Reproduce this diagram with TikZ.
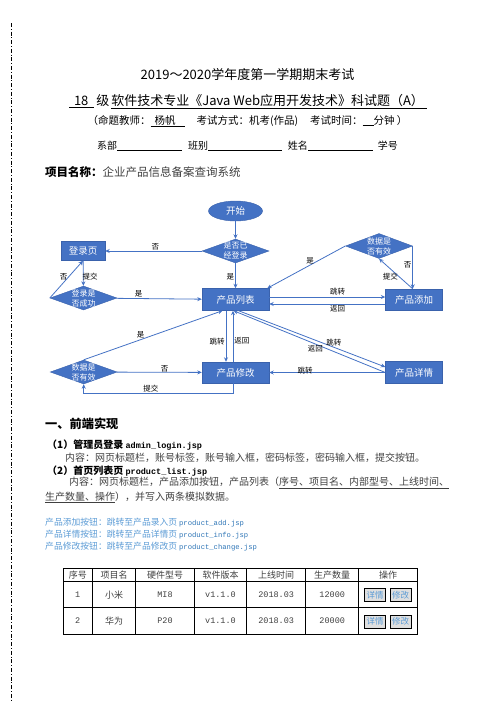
\documentclass[tikz,border=0pt]{standalone}
\usepackage{fontspec}
\setmainfont{Noto Sans CJK SC}
\setmonofont{Liberation Mono}
\usepackage{xcolor}
\usetikzlibrary{arrows.meta, shapes.geometric}
\definecolor{flowblue}{HTML}{4472C4}
\definecolor{flowedge}{HTML}{3A62AC}
\definecolor{linkblue}{HTML}{5B9BD5}
\definecolor{codeblue}{HTML}{2E75B6}
\definecolor{bodygray}{HTML}{404040}
\newcommand{\fsz}[1]{\fontsize{#1}{#1}\selectfont}
\tikzset{
  pagetext/.style={inner sep=0pt, font=\fsz{10}},
  flowbox/.style={draw=flowedge, fill=flowblue, text=white, inner sep=1pt,
                  font=\fsz{9.5}, minimum height=21pt},
  terminal/.style={flowbox, ellipse, minimum width=54pt, minimum height=20pt},
  process/.style={flowbox, rectangle, minimum width=67pt},
  smallproc/.style={process, minimum width=57pt},
  decision/.style={flowbox, diamond, minimum width=67pt, minimum height=24pt, inner sep=0pt},
  dtext/.style={text=white, align=center, font=\fontsize{8}{10}\selectfont, inner sep=0pt},
  flowarrow/.style={-{Stealth[length=4.5pt, width=4pt]}, draw=flowblue, line width=0.8pt},
  edgelabel/.style={font=\fsz{7.5}, inner sep=1pt},
  tabline/.style={line width=0.8pt},
  cell/.style={font=\fsz{9}, text=bodygray, inner sep=0pt},
  cellmono/.style={cell, font=\ttfamily\fsz{8.5}},
  tabbtn/.style={draw, line width=0.6pt, fill=gray!25, text=linkblue, font=\fsz{8.5},
                 inner sep=0.5pt, minimum width=21pt, minimum height=13pt}
}

\begin{document}
\begin{tikzpicture}[x=1pt, y=-1pt]
\useasboundingbox (0,0) rectangle (496,702);

% Binding line
\draw[dash pattern=on 4pt off 1.8pt on 1pt off 1.8pt, line width=0.7pt] (11,23) -- (11,702);

% Header
\node[pagetext, font=\fsz{13}] (title) at (247.5,75) {2019～2020学年度第一学期期末考试};
\node[pagetext, font=\fsz{13}] (subject) at (248,102)
  {\underline{\hspace{5pt}18\hspace{6pt}}\hspace{2pt}级\hspace{2pt}\underline{软件技术专业《Java Web应用开发技术》科试题（A）\hspace{3pt}}};
\node[pagetext, font=\fsz{10.5}] (teacher) at (247.5,121)
  {（命题教师：\underline{\hspace{4pt}杨帆\hspace{9pt}}\hspace{12pt}考试方式：机考(作品)\hspace{12pt}考试时间：\underline{\hspace{11pt}}分钟 ）};
\node[pagetext] (student) at (247.5,146)
  {系部\underline{\hspace{65pt}}\hspace{6pt}班别\underline{\hspace{74pt}}\hspace{6pt}姓名\underline{\hspace{65pt}}\hspace{5pt}学号};
\node[pagetext, anchor=west, font=\fsz{11.5}] (project) at (45,172)
  {\textbf{项目名称：}\textcolor{bodygray}{企业产品信息备案查询系统}};

% Nodes
\node[terminal] (start) at (235.5,211) {开始};
\node[decision, label={[dtext]center:是否已\\经登录}] (logged) at (235.5,251) {};
\node[process, minimum width=44pt, minimum height=19pt] (loginpage) at (83,251) {登录页};
\node[decision, label={[dtext]center:登录是\\否成功}] (loginok) at (83.5,298) {};
\node[process, minimum height=22pt] (list) at (235.5,299.5) {产品列表};
\node[smallproc] (add) at (414,299.5) {产品添加};
\node[decision, minimum height=25pt, label={[dtext]center:数据是\\否有效}] (addvalid) at (379,246) {};
\node[process] (modify) at (235.5,372.5) {产品修改};
\node[decision, label={[dtext]center:数据是\\否有效}] (modvalid) at (83.7,372) {};
\node[smallproc, minimum height=22pt] (detail) at (414,372.5) {产品详情};

% Arrows
\draw[flowarrow] (start) -- (logged);
\draw[flowarrow] (logged) -- node[edgelabel, above, pos=0.48] {否} (loginpage);
\draw[flowarrow] (logged) -- node[edgelabel, left, pos=0.56] {是} (list);
\draw[flowarrow] (loginpage) -- node[edgelabel, right=-2pt, pos=0.62] {提交} (loginok);
\draw[flowarrow] (loginok.west) -- node[edgelabel, left, pos=0.57] {否} (loginpage.south);
\draw[flowarrow] (loginok) -- node[edgelabel, above, pos=0.26] {是} (list);
\draw[flowarrow] ([yshift=2.5pt]list.east) -- node[edgelabel, above, pos=0.59] {跳转} ([yshift=2.5pt]add.west);
\draw[flowarrow] ([yshift=-4.5pt]add.west) -- node[edgelabel, below, pos=0.41] {返回} ([yshift=-4.5pt]list.east);
\draw[flowarrow] (addvalid.east) -- node[edgelabel, left, pos=0.44] {否} (addvalid.east |- add.north);
\draw[flowarrow] (addvalid.east |- add.north) -- node[edgelabel, left, pos=0.4] {提交} (addvalid.south);
\draw[flowarrow] (addvalid.west) -- node[edgelabel, above, pos=0.45] {是} ([xshift=-2pt]list.north east);
\draw[flowarrow] ([xshift=-9.5pt]list.south) -- node[edgelabel, left, pos=0.6] {跳转} ([xshift=-9.5pt]modify.north);
\draw[flowarrow] ([xshift=-2.5pt]modify.north) -- node[edgelabel, right, pos=0.41] {返回} ([xshift=-2.5pt]list.south);
\draw[flowarrow] ([xshift=3pt]list.south) -- node[edgelabel, above, pos=0.65] {跳转} ([yshift=5.5pt]detail.west);
\draw[flowarrow] (detail.west) -- node[edgelabel, below, pos=0.46] {返回} ([xshift=-2pt]list.south);
\draw[flowarrow] (detail) -- node[edgelabel, pos=0.69, yshift=1.5pt] {跳转} (modify);
\draw[flowarrow] ([xshift=-2.5pt]modify.south) -- ++(0,10) -| node[edgelabel, above, pos=0.275] {提交} (modvalid.south);
\draw[flowarrow] (modvalid) -- node[edgelabel, above=-1pt, pos=0.56] {否} (modify);
\draw[flowarrow] (modvalid.north) -- node[edgelabel, above, pos=0.41] {是} ([xshift=-13pt]list.south);

% Requirements text
\node[pagetext, anchor=west, font=\bfseries\fsz{12.2}] (front) at (45,423.3) {一、前端实现};
\node[pagetext, anchor=west, font=\bfseries\fsz{10}] (login) at (47,445)
  {（1）管理员登录 {\ttfamily\fsz{8.5}admin\_login.jsp}};
\node[pagetext, anchor=west, text=bodygray] (logindesc) at (65,457.7)
  {内容：网页标题栏，账号标签，账号输入框，密码标签，密码输入框，提交按钮。};
\node[pagetext, anchor=west, font=\bfseries\fsz{10}] (listpage) at (47,471)
  {（2）首页列表页 {\ttfamily\fsz{8.5}product\_list.jsp}};
\node[pagetext, anchor=west, text=bodygray] (listdesc) at (69,482.7)
  {内容：网页标题栏，产品添加按钮，产品列表（\underline{序号、项目名、内部型号、上线时间、}};
\node[pagetext, anchor=west, text=bodygray] (listdescb) at (45,497.3)
  {\underline{生产数量、操作}），并写入两条模拟数据。};
\node[pagetext, anchor=west, font=\fsz{8.8}, text=linkblue] (addbtn) at (45,522.3)
  {产品添加按钮：跳转至产品录入页 \textcolor{codeblue}{\ttfamily\fsz{7.2}product\_add.jsp}};
\node[pagetext, anchor=west, font=\fsz{8.8}, text=linkblue] (infobtn) at (45,535)
  {产品详情按钮：跳转至产品详情页 \textcolor{codeblue}{\ttfamily\fsz{7.2}product\_info.jsp}};
\node[pagetext, anchor=west, font=\fsz{8.8}, text=linkblue] (chgbtn) at (45,546.7)
  {产品修改按钮：跳转至产品修改页 \textcolor{codeblue}{\ttfamily\fsz{7.2}product\_change.jsp}};

% Table
\foreach \x in {63.3,92.3,135.7,194.3,246.7,305.7,358.7,417.7}
  \draw[tabline] (\x,568.3) -- (\x,634.3);
\foreach \y in {568.3,581.7,607.7,634.3}
  \draw[tabline] (63.3,\y) -- (417.7,\y);
\foreach \cx/\t [count=\i] in {77.8/序号, 114/项目名, 165/硬件型号, 220.5/软件版本,
                              276.2/上线时间, 332.2/生产数量, 388.2/操作}
  \node[cell] (head\i) at (\cx,575) {\t};
\foreach \cx/\a/\b [count=\i] in {77.8/1/2, 165/MI8/P20, 220.5/v1.1.0/v1.1.0,
                                  276.2/2018.03/2018.03, 332.2/12000/20000} {
  \node[cellmono] (rowa\i) at (\cx,594.7) {\a};
  \node[cellmono] (rowb\i) at (\cx,621) {\b};
}
\node[cell] (namea) at (114,594.7) {小米};
\node[cell] (nameb) at (114,621) {华为};
\node[tabbtn] (infoa) at (375,595) {详情};
\node[tabbtn] (chga) at (400.5,595) {修改};
\node[tabbtn] (infob) at (375,621.3) {详情};
\node[tabbtn] (chgb) at (400.5,621.3) {修改};

\end{tikzpicture}
\end{document}
